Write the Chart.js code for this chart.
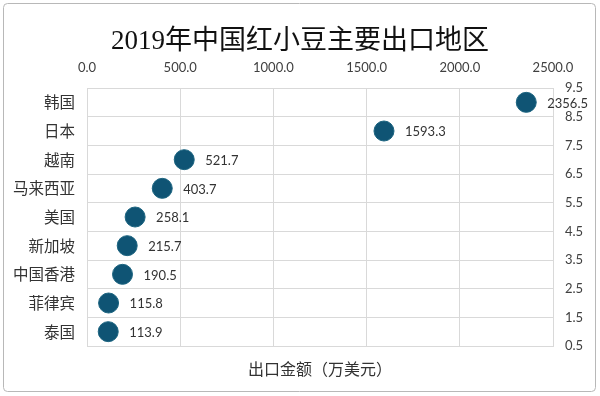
<!DOCTYPE html>
<html lang="zh">
<head>
  <meta charset="utf-8">
  <title>2019年中国红小豆主要出口地区</title>
  <style>
    html, body { margin: 0; padding: 0; background: #fff; }
    .wrap { width: 600px; height: 396px; position: relative; }
  </style>
</head>
<body>
  <div class="wrap">
    <canvas id="chart" width="600" height="396"></canvas>
  </div>
  <script src="https://cdn.jsdelivr.net/npm/chart.js@4/dist/chart.umd.min.js"></script>
  <script>
    // 数据 (万美元)
    const regions = ['韩国', '日本', '越南', '马来西亚', '美国', '新加坡', '中国香港', '菲律宾', '泰国'];
    const exportValues = [2356.5, 1593.3, 521.7, 403.7, 258.1, 215.7, 190.5, 115.8, 113.9];
    const xTicks = [0, 500, 1000, 1500, 2000, 2500];
    const yTicks = [0.5, 1.5, 2.5, 3.5, 4.5, 5.5, 6.5, 7.5, 8.5, 9.5];

    const gridColor = '#d9d9d9';
    const tickColor = '#404040';
    const dotColor = '#0f5474';

    // 韩国在最上面 -> y = 9, 泰国 -> y = 1
    const points = exportValues.map((v, i) => ({ x: v, y: regions.length - i }));

    const frame = {
      id: 'frame',
      beforeDraw(chart) {
        const ctx = chart.ctx;
        ctx.save();
        ctx.fillStyle = '#fff';
        ctx.fillRect(0, 0, chart.width, chart.height);
        ctx.strokeStyle = '#b8b8b8';
        ctx.lineWidth = 1;
        ctx.beginPath();
        ctx.roundRect(3.5, 3.5, 592, 388, 4);
        ctx.stroke();
        ctx.restore();
      }
    };

    const valueLabels = {
      id: 'valueLabels',
      afterDatasetsDraw(chart) {
        const ctx = chart.ctx;
        const meta = chart.getDatasetMeta(0);
        ctx.save();
        ctx.font = '13px Lato, "Open Sans", sans-serif';
        ctx.fillStyle = '#333';
        ctx.textAlign = 'left';
        ctx.textBaseline = 'middle';
        meta.data.forEach((el, i) => {
          ctx.fillText(exportValues[i].toFixed(1), el.x + 21, el.y + 1);
        });
        ctx.restore();
      }
    };

    const ctx = document.getElementById('chart').getContext('2d');
    const chart = new Chart(ctx, {
      type: 'scatter',
      data: {
        datasets: [{
          label: '出口金额',
          data: points,
          xAxisID: 'x',
          yAxisID: 'y',
          pointRadius: 10,
          pointHoverRadius: 10,
          backgroundColor: dotColor,
          borderColor: '#1d6581',
          borderWidth: 1
        }]
      },
      options: {
        responsive: false,
        animation: false,
        events: [],
        layout: { padding: { top: 8, left: 0, right: 0, bottom: 0 } },
        plugins: {
          legend: { display: false },
          tooltip: { enabled: false },
          title: {
            display: true,
            text: '2019年中国红小豆主要出口地区',
            color: '#111',
            font: { family: '"Liberation Serif", "Noto Sans CJK SC", serif', size: 27, weight: 'normal' },
            padding: { top: 18, bottom: 2 }
          }
        },
        scales: {
          x: {
            type: 'linear',
            position: 'top',
            min: 0,
            max: 2500,
            afterBuildTicks: (scale) => { scale.ticks = xTicks.map(v => ({ value: v })); },
            ticks: {
              color: tickColor,
              font: { family: 'Lato, "Open Sans", sans-serif', size: 13 },
              padding: 12,
              callback: (v) => Number(v).toFixed(1)
            },
            grid: { color: gridColor, drawTicks: false },
            border: { color: gridColor },
            afterFit: (scale) => { scale.height = 27.6; }
          },
          x2: {
            type: 'linear',
            position: 'bottom',
            min: 0,
            max: 1,
            ticks: { display: false },
            grid: { display: false, drawTicks: false },
            border: { display: false },
            title: {
              display: true,
              text: '出口金额（万美元）',
              color: '#333',
              font: { family: '"Noto Sans CJK SC", sans-serif', size: 16 },
              padding: { top: 0, bottom: 17 }
            },
            afterFit: (scale) => { scale.height = 50; }
          },
          yName: {
            type: 'category',
            position: 'left',
            labels: regions,
            offset: true,
            ticks: {
              color: '#333',
              font: { family: '"Noto Sans CJK SC", sans-serif', size: 15.5 },
              padding: 12
            },
            grid: { display: false, drawTicks: false },
            border: { display: false },
            afterFit: (scale) => { scale.width = 87; }
          },
          y: {
            type: 'linear',
            position: 'right',
            min: 0.5,
            max: 9.5,
            afterBuildTicks: (scale) => { scale.ticks = yTicks.map(v => ({ value: v })); },
            ticks: {
              color: tickColor,
              font: { family: 'Lato, "Open Sans", sans-serif', size: 13 },
              padding: 12,
              callback: (v) => Number(v).toFixed(1)
            },
            grid: { color: gridColor, drawTicks: false },
            border: { color: gridColor },
            afterFit: (scale) => { scale.width = 47; }
          }
        }
      },
      plugins: [frame, valueLabels]
    });
  </script>
</body>
</html>
